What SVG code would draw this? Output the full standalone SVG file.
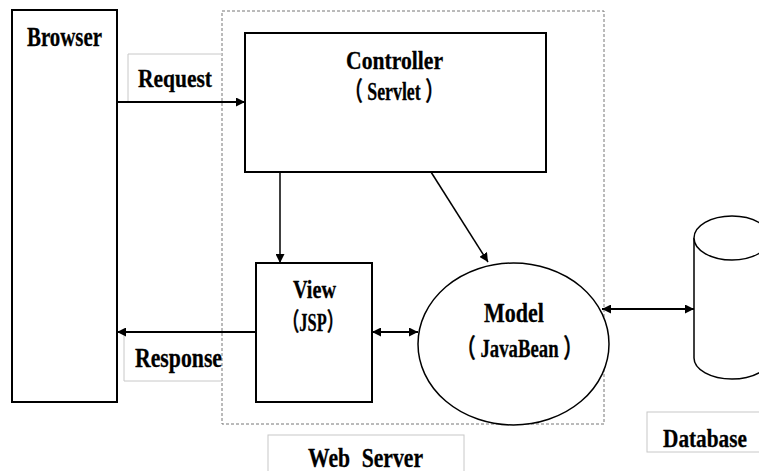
<svg xmlns="http://www.w3.org/2000/svg" width="759" height="471" viewBox="0 0 759 471">
  <style>
    .box { fill: #ffffff; stroke: #000000; stroke-width: 2; }
    .thin { fill: #ffffff; stroke: #000000; stroke-width: 1.5; }
    .tag { fill: #ffffff; stroke: #c8c8c8; stroke-width: 1; }
    .frame { fill: none; stroke: #777777; stroke-width: 1; stroke-dasharray: 3 2; }
    .lbl { font-family: "Liberation Serif", "Noto Sans CJK SC", serif; font-weight: bold; fill: #000000; stroke: #000000; stroke-width: 0.3; text-anchor: middle; }
    .wire { fill: none; stroke: #000000; stroke-width: 2; }
    .wire-thin { fill: none; stroke: #000000; stroke-width: 1.5; }
  </style>
  <defs>
    <marker id="head" viewBox="0 0 9 9" refX="9" refY="4.5" markerWidth="9" markerHeight="9" markerUnits="userSpaceOnUse" orient="auto-start-reverse">
      <path d="M0,0 L9,4.5 L0,9 z" fill="#000000"/>
    </marker>
  </defs>

  <rect width="759" height="471" fill="#ffffff"/>

  <!-- web server boundary -->
  <g id="web-server">
    <rect class="frame" x="222" y="11" width="382" height="413"/>
    <rect class="tag" x="268" y="435" width="196" height="40"/>
    <text class="lbl" x="365.5" y="467" font-size="28" word-spacing="8" textLength="115" lengthAdjust="spacingAndGlyphs">Web Server</text>
  </g>

  <!-- browser -->
  <g id="browser">
    <rect class="box" x="12" y="10" width="105" height="392"/>
    <text class="lbl" x="64.5" y="46" font-size="28" textLength="75" lengthAdjust="spacingAndGlyphs">Browser</text>
  </g>

  <!-- edge labels with light frames -->
  <g id="request-label">
    <path class="tag" d="M222,54 H128 V101"/>
    <text class="lbl" x="175" y="87" font-size="25" textLength="74" lengthAdjust="spacingAndGlyphs">Request</text>
  </g>
  <g id="response-label">
    <path class="tag" d="M124,333 V381 H222"/>
    <text class="lbl" x="178.5" y="367" font-size="27" textLength="87" lengthAdjust="spacingAndGlyphs">Response</text>
  </g>

  <!-- controller -->
  <g id="controller">
    <rect class="box" x="245" y="33" width="301" height="139"/>
    <text class="lbl" x="394.5" y="69" font-size="26" textLength="97" lengthAdjust="spacingAndGlyphs">Controller</text>
    <text class="lbl" x="394" y="100" font-size="26" textLength="98" lengthAdjust="spacingAndGlyphs">（ Servlet ）</text>
  </g>

  <!-- view -->
  <g id="view">
    <rect class="box" x="256" y="263" width="116" height="139"/>
    <text class="lbl" x="314.5" y="298" font-size="25" textLength="43" lengthAdjust="spacingAndGlyphs">View</text>
    <text class="lbl" x="313" y="331" font-size="25" textLength="60" lengthAdjust="spacingAndGlyphs">（JSP）</text>
  </g>

  <!-- model -->
  <g id="model">
    <ellipse class="thin" cx="513.5" cy="344" rx="95.5" ry="81"/>
    <text class="lbl" x="514" y="322" font-size="27" textLength="60" lengthAdjust="spacingAndGlyphs">Model</text>
    <text class="lbl" x="519.5" y="357" font-size="26" textLength="125" lengthAdjust="spacingAndGlyphs">（ JavaBean ）</text>
  </g>

  <!-- database -->
  <g id="database">
    <path class="thin" d="M694,238 V358 A38,21 0 0 0 770,358 V238"/>
    <ellipse class="thin" cx="732" cy="238" rx="38" ry="22"/>
    <rect class="tag" x="647" y="412" width="120" height="40"/>
    <text class="lbl" x="705" y="447" font-size="26" textLength="84" lengthAdjust="spacingAndGlyphs">Database</text>
  </g>

  <!-- connectors -->
  <g id="connectors">
    <line class="wire" x1="117" y1="102" x2="245" y2="102" marker-end="url(#head)"/>
    <line class="wire" x1="256" y1="332" x2="117" y2="332" marker-end="url(#head)"/>
    <line class="wire-thin" x1="280" y1="172" x2="280" y2="263" marker-end="url(#head)"/>
    <line class="wire-thin" x1="431" y1="172" x2="488" y2="262" marker-end="url(#head)"/>
    <line class="wire" x1="372" y1="332" x2="418" y2="332" marker-start="url(#head)" marker-end="url(#head)"/>
    <line class="wire" x1="602" y1="309" x2="694" y2="309" marker-start="url(#head)" marker-end="url(#head)"/>
  </g>
</svg>
